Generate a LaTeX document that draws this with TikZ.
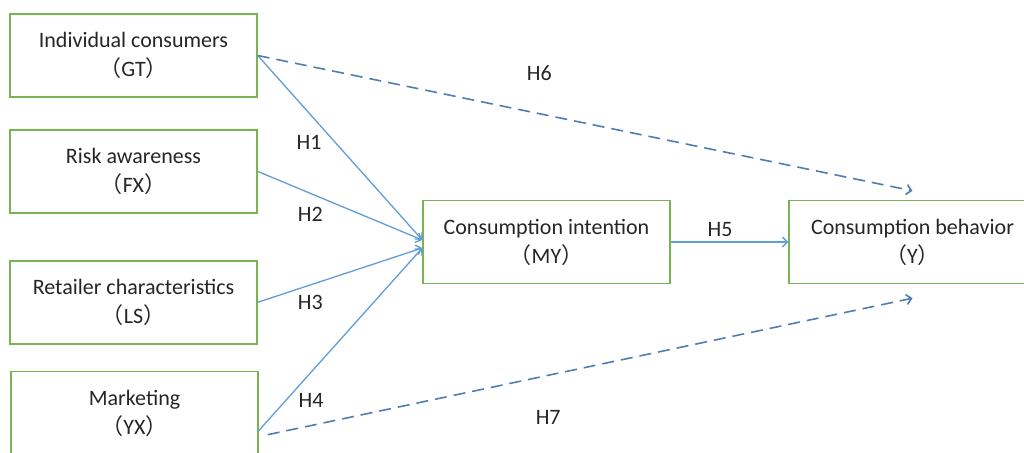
\documentclass[tikz,border=0pt]{standalone}
\usepackage{fontspec}
\setmainfont{Carlito}
\newfontfamily\cjk{Noto Sans CJK SC}
\usepackage{xcolor}
\usetikzlibrary{arrows.meta,positioning,calc}
\definecolor{boxgreen}{RGB}{122,180,82}
\definecolor{lineblue}{RGB}{96,158,214}
\definecolor{dashblue}{RGB}{78,126,178}
\definecolor{txtgray}{RGB}{38,38,38}
\newcommand{\lpar}{{\cjk （}}
\newcommand{\rpar}{{\cjk ）}}

\begin{document}
\begin{tikzpicture}[x=1pt,y=-1pt,text=txtgray,
   font=\fontsize{22}{29}\selectfont,
   var/.style={draw=boxgreen,line width=1.4pt,fill=white,minimum width=247pt,
               minimum height=83pt,align=center,inner sep=0pt},
   hyp/.style={-{Straight Barb[length=5pt,width=10pt]},draw=lineblue,line width=1.3pt},
   hypd/.style={-{Straight Barb[length=5pt,width=10pt]},draw=dashblue,line width=1.6pt,
                dash pattern=on 12pt off 7pt},
   lab/.style={inner sep=0pt}]
  \useasboundingbox (0,0) rectangle (1024,452);
  \fill[white] (0,0) rectangle (1024,452);
  % constructs
  \node[var] (gt) at (133.5,55.5) {Individual consumers\\\lpar GT\rpar};
  \node[var,below=31.5pt of gt] (fx) {Risk awareness\\\lpar FX\rpar};
  \node[var,below=46.5pt of fx] (ls) {Retailer characteristics\\\lpar LS\rpar};
  \node[var,below=26.5pt of ls,xshift=1pt] (yx) {Marketing\\\lpar YX\rpar};
  \node[var] (my) at (546.5,242) {Consumption intention\\\lpar MY\rpar};
  \node[var] (y) at (912.5,242) {Consumption behavior\\\lpar Y\rpar};
  % end points
  \coordinate (myin1) at ($(my.west)+(0,2pt)$);
  \coordinate (myin2) at ($(my.west)+(0,-6pt)$);
  \coordinate (yxout1) at ($(yx.east)+(0,-17.5pt)$);
  \coordinate (yxout2) at ($(yx.east)+(9pt,-21.5pt)$);
  \coordinate (yin1) at ($(y.north)+(0,9pt)$);
  \coordinate (yin2) at ($(y.south)+(0,-14pt)$);
  % paths
  \draw[hyp] (gt.east) -- (myin1) node[lab,pos=0.47,xshift=-26pt]{H1};
  \draw[hyp] (fx.east) -- (myin1) node[lab,pos=0.32,yshift=-21pt]{H2};
  \draw[hyp] (ls.east) -- (myin2) node[lab,pos=0.32,yshift=-18pt]{H3};
  \draw[hyp] (yxout1) -- (myin2) node[lab,pos=0.32,yshift=-28pt]{H4};
  \draw[hyp] (my) -- (y) node[lab,pos=0.42,yshift=12pt]{H5};
  \draw[hypd] (gt.east) -- (yin1) node[lab,pos=0.43,yshift=41pt]{H6};
  \draw[hypd] (yxout2) -- (yin2) node[lab,pos=0.435,yshift=-42pt]{H7};
\end{tikzpicture}
\end{document}
